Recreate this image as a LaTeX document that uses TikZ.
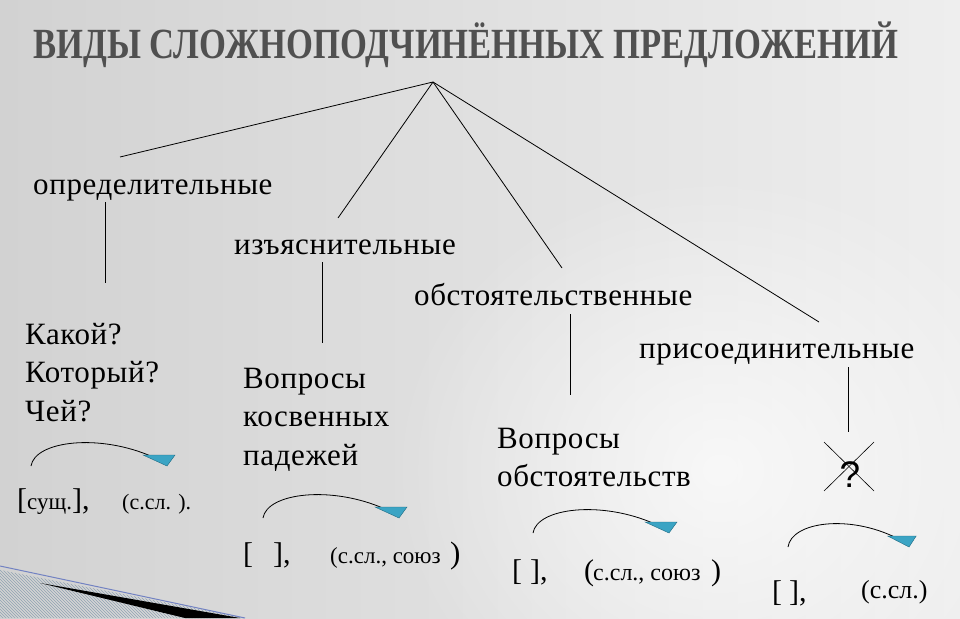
\documentclass[tikz,border=0pt]{standalone}
\usepackage{fontspec}
\setmainfont{Liberation Serif}
\newfontfamily\lsp[LetterSpace=2]{Liberation Serif}
\newfontfamily\qsans{Liberation Sans}
\usetikzlibrary{patterns,fadings}
\definecolor{bgL}{HTML}{D2D2D2}
\definecolor{bgR}{HTML}{EEEEEE}
\definecolor{ttl}{HTML}{505050}
\definecolor{tealA}{HTML}{3BA4C4}
\definecolor{tealD}{HTML}{1E6A82}
\definecolor{hatch}{HTML}{8FA3B3}
\tikzfading[name=glowfade, inner color=transparent!0, outer color=transparent!100]
\newcommand\stack[1]{\vtop{\baselineskip=38.5pt\lineskiplimit=-20pt\lineskip=0pt #1}}
\newcommand\bigf{\fontsize{30}{32}\selectfont}
\newcommand\smf{\fontsize{23}{26}\selectfont}
\begin{document}
\begin{tikzpicture}[x=1pt,y=-1pt,
  lbl/.style={anchor=base west, inner sep=0pt, font=\lsp\fontsize{31}{34}\selectfont},
  frm/.style={anchor=base west, inner sep=0pt, font=\fontsize{27}{30}\selectfont},
  edge/.style={line width=0.8pt, black},
  arcline/.style={line width=0.8pt, black},
  tri/.style={fill=tealA, draw=tealD, line width=0.4pt}]
\useasboundingbox (0,0) rectangle (960,618);
% background
\shade[left color=bgL, right color=bgR] (0,0) rectangle (960,618);
\fill[white, path fading=glowfade, opacity=0.7] (720,470) ellipse (330 and 300);
% bottom-left decoration
\begin{scope}
\clip (0,618) -- (0,570) -- (245,618) -- cycle;
\fill[pattern=north west lines, pattern color=hatch] (0,560) rectangle (250,618);
\end{scope}
\draw[hatch!80!blue, line width=1pt] (0,566) -- (245,618);
\fill[black] (40,583) -- (240,618) -- (185,618) -- cycle;
% title
\node[anchor=base west, inner sep=0pt, text=ttl, font=\bfseries\fontsize{43}{46}\selectfont] (title) at (33,59)
  {\resizebox{865pt}{\height}{ВИДЫ СЛОЖНОПОДЧИНЁННЫХ ПРЕДЛОЖЕНИЙ}};
% labels
\node[lbl] (opr) at (33,194) {определительные};
\node[lbl] (izy) at (234,254) {изъяснительные};
\node[lbl] (obs) at (414,305) {обстоятельственные};
\node[lbl] (pri) at (639,358) {присоединительные};
\node[lbl] (q1) at (25,344) {\stack{\hbox{Какой?}\hbox{Который?}\hbox{Чей?}}};
\node[lbl] (q2) at (243,388) {\stack{\hbox{Вопросы}\hbox{косвенных}\hbox{падежей}}};
\node[lbl] (q3) at (497,448) {\stack{\hbox{Вопросы}\hbox{обстоятельств}}};
\node[anchor=base, inner sep=0pt, font=\qsans\fontsize{37}{38}\selectfont] (q4) at (850,487) {?};
% connectors
\coordinate (apex) at (433,82);
\coordinate (t1) at (120,157);
\coordinate (t2) at (338,218);
\coordinate (t3) at (562,268);
\coordinate (t4) at (819,322);
\draw[edge] (apex) -- (t1);
\draw[edge] (apex) -- (t2);
\draw[edge] (apex) -- (t3);
\draw[edge] (apex) -- (t4);
\coordinate (v1a) at (105,202); \coordinate (v1b) at (105,283);
\coordinate (v2a) at (322,262); \coordinate (v2b) at (322,343);
\coordinate (v3a) at (570,314); \coordinate (v3b) at (570,395);
\coordinate (v4a) at (848,367); \coordinate (v4b) at (848,432);
\draw[edge] (v1a) -- (v1b);
\draw[edge] (v2a) -- (v2b);
\draw[edge] (v3a) -- (v3b);
\draw[edge] (v4a) -- (v4b);
% cross
\coordinate (xa) at (824,442); \coordinate (xb) at (874,491);
\coordinate (xc) at (874,442); \coordinate (xd) at (824,491);
\draw[line width=0.6pt] (xa) -- (xb);
\draw[line width=0.6pt] (xc) -- (xd);
% arcs with arrowheads
\foreach \px/\py/\sc [count=\i] in {31/466/1, 263/518/1, 533/533/1, 788/547/0.89}{
  \begin{scope}[shift={(\px,\py)}, xscale=\sc]
    \draw[arcline] (0,0) .. controls (4,-25) and (68,-33) .. (122,-9);
    \fill[tri] (112,-11) -- (144,-11) -- (136,0) -- cycle;
  \end{scope}
}
% formulas
\node[frm] (f1a) at (17,509) {{\bigf[}{\smf сущ.}{\bigf],}};
\node[frm, font=\fontsize{22}{24}\selectfont] (f1b) at (122,509) {(с.сл. ).};
\node[frm, font=\bigf] (f2a) at (243,563) {[\hspace{20pt}],};
\node[frm, font=\smf] (f2b) at (330,563) {(с.сл., союз};
\node[frm, font=\fontsize{31}{32}\selectfont] (f2c) at (450,563) {)};
\node[frm, font=\bigf] (f3a) at (512,580) {[\hspace{8pt}],};
\node[frm, font=\bigf] (f3b) at (584,580) {(};
\node[frm, font=\fontsize{24}{26}\selectfont] (f3c) at (593,580) {с.сл., союз};
\node[frm, font=\bigf] (f3d) at (711,580) {)};
\node[frm, font=\bigf] (f4a) at (772,601) {[\hspace{7pt}],};
\node[frm, font=\fontsize{26}{26}\selectfont] (f4b) at (861,598) {(с.сл.)};
\end{tikzpicture}
\end{document}
